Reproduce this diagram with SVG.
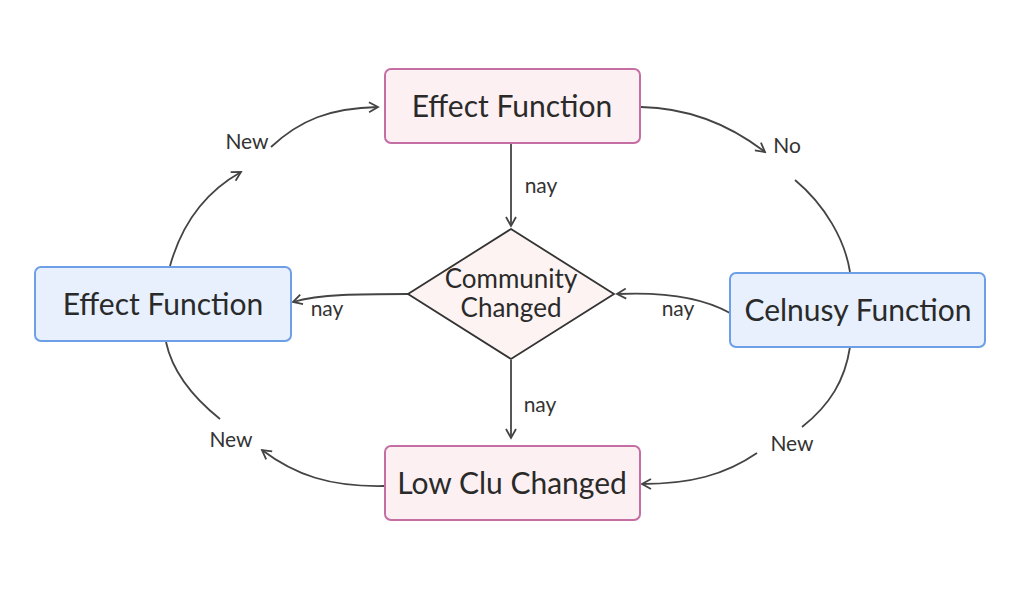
<svg xmlns="http://www.w3.org/2000/svg" width="1024" height="610" viewBox="0 0 1024 610">
<defs>
<style>
.pink{fill:#fdf0f2;stroke:#c46ea3;stroke-width:2}
.blue{fill:#e7f0fc;stroke:#6c9fe6;stroke-width:2}
.dia{fill:#fdf3f3;stroke:#333;stroke-width:1.8}
.nt{font-family:Lato,"Open Sans",sans-serif;font-size:30px;fill:#2a2a2a;text-anchor:middle}
.dt{font-family:Lato,"Open Sans",sans-serif;font-size:26px;fill:#2a2a2a;text-anchor:middle}
.lb{font-family:Lato,"Open Sans",sans-serif;font-size:21px;fill:#333;text-anchor:middle}
.c{fill:none;stroke:#444;stroke-width:1.8}
</style>
<marker id="ah" viewBox="0 0 12 12" refX="10" refY="6" markerWidth="12" markerHeight="12" markerUnits="userSpaceOnUse" orient="auto">
<path d="M1,1 L10,6 L1,11" fill="none" stroke="#444" stroke-width="1.8"/>
</marker>
</defs>
<rect width="1024" height="610" fill="#ffffff"/>
<g id="connectors">
<path class="c" d="M511,144 L511,226" marker-end="url(#ah)"/>
<path class="c" d="M511,360 L511,438" marker-end="url(#ah)"/>
<path class="c" d="M408,294 C360,294 320,294 293,302" marker-end="url(#ah)"/>
<path class="c" d="M730,313 C700,296 660,292 617,294" marker-end="url(#ah)"/>
<path class="c" d="M271,147 C300,120 330,108 378,107" marker-end="url(#ah)"/>
<path class="c" d="M170,266 C180,230 200,195 241,172" marker-end="url(#ah)"/>
<path class="c" d="M641,107 C690,108 730,125 765,152" marker-end="url(#ah)"/>
<path class="c" d="M795,180 C825,205 845,240 850,272"/>
<path class="c" d="M850,347 C845,380 830,405 802,427"/>
<path class="c" d="M757,453 C725,475 690,484 642,484" marker-end="url(#ah)"/>
<path class="c" d="M384,486 C330,487 295,475 262,450" marker-end="url(#ah)"/>
<path class="c" d="M166,342 C172,370 190,395 220,419"/>
</g>
<g id="labels">
<text class="lb" x="541" y="193">nay</text>
<text class="lb" x="540" y="412">nay</text>
<text class="lb" x="327" y="316">nay</text>
<text class="lb" x="678" y="316">nay</text>
<text class="lb" x="247" y="149">New</text>
<text class="lb" x="787" y="153">No</text>
<text class="lb" x="792" y="451">New</text>
<text class="lb" x="231" y="447">New</text>
</g>
<g id="top">
<rect class="pink" x="385" y="69" width="255" height="74" rx="6"/>
<text class="nt" x="512" y="117">Effect Function</text>
</g>
<g id="left">
<rect class="blue" x="35" y="267" width="256" height="74" rx="6"/>
<text class="nt" x="163" y="315">Effect Function</text>
</g>
<g id="right">
<rect class="blue" x="730" y="273" width="255" height="74" rx="6"/>
<text class="nt" x="858" y="321">Celnusy Function</text>
</g>
<g id="bottom">
<rect class="pink" x="385" y="446" width="255" height="74" rx="6"/>
<text class="nt" x="512" y="494">Low Clu Changed</text>
</g>
<g id="diamond">
<polygon class="dia" points="511,229 614,294 511,359 408,294"/>
<text class="dt" x="511" y="288">Community</text>
<text class="dt" x="511" y="317">Changed</text>
</g>
</svg>
